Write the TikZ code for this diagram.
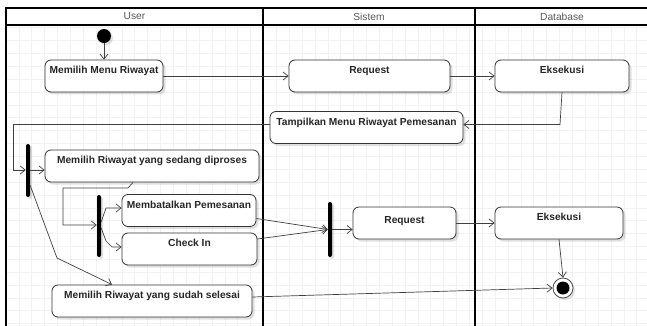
\documentclass[tikz,border=0pt]{standalone}
\usepackage{fontspec}
\setmainfont{Liberation Sans}
\usetikzlibrary{arrows.meta,shadows}
\begin{document}
\begin{tikzpicture}[x=1pt,y=-1pt,
  box/.style={draw=black!80, line width=0.8pt, rounded corners=6pt, fill=white,
    drop shadow={shadow xshift=2.5pt, shadow yshift=-2.5pt, opacity=0.12, fill=black},
    font=\bfseries\fontsize{10.2}{12}\selectfont, text=black!85,
    inner xsep=2pt, inner ysep=0pt, text height=13.5pt, text depth=18.5pt},
  barnode/.style={fill=black, rounded corners=2pt, inner sep=0pt, minimum width=4pt,
    drop shadow={shadow xshift=2pt, shadow yshift=-2pt, opacity=0.12, fill=black}},
  conn/.style={draw=black!75, line width=0.7pt},
  arr/.style={conn, -{Straight Barb[length=5pt,width=8pt,line width=0.7pt]}},
  lane/.style={draw=black, line width=1.2pt},
  hdr/.style={font=\fontsize{10.2}{12}\selectfont, text=black!65}
]
\useasboundingbox (0,0) rectangle (647,326);
\fill[white] (0,0) rectangle (647,326);
% grid
\foreach \i in {0,...,50} {\draw[black!5, line width=0.5pt] (6+\i*12.87,25) -- (6+\i*12.87,326);}
\foreach \j in {0,...,23} {\draw[black!5, line width=0.5pt] (6,27.6+\j*12.87) -- (647,27.6+\j*12.87);}
% lanes
\draw[lane] (6,326) -- (6,8) -- (647,8);
\draw[lane] (6,25) -- (647,25);
\draw[lane] (263,8) -- (263,326);
\draw[lane] (475,8) -- (475,326);
\node[hdr] (hUser) at (134.5,16.5) {User};
\node[hdr] (hSistem) at (369,16.5) {Sistem};
\node[hdr] (hDb) at (562,16.5) {Database};
% start
\node[circle, fill=black, minimum size=14pt, inner sep=0pt,
  drop shadow={shadow xshift=2pt, shadow yshift=-2pt, opacity=0.12, fill=black}] (start) at (104,36) {};
% activities
\node[box, minimum width=118pt] (mmr) at (104,76) {Memilih Menu Riwayat};
\node[box, minimum width=161pt] (req1) at (369.5,76) {Request};
\node[box, minimum width=134pt] (eks1) at (562,76) {Eksekusi};
\node[box, minimum width=193pt] (tamp) at (366.5,127.5) {Tampilkan Menu Riwayat Pemesanan};
\node[box, minimum width=214pt] (dipro) at (152,166) {Memilih Riwayat yang sedang diproses};
\node[box, minimum width=134pt] (batal) at (189,210.5) {Membatalkan Pemesanan};
\node[box, minimum width=135pt] (checkin) at (189.5,249) {Check In};
\node[box, minimum width=103pt, text height=16pt, text depth=16pt] (req2) at (404.5,223) {Request};
\node[box, minimum width=128pt] (eks2) at (559,223) {Eksekusi};
\node[box, minimum width=200pt] (selesai) at (152,301) {Memilih Riwayat yang sudah selesai};
% bars
\node[barnode, minimum height=53pt] (bar1) at (28,170.5) {};
\node[barnode, minimum height=62pt] (bar2) at (99,226) {};
\node[barnode, minimum height=55pt] (bar3) at (330,229.5) {};
% final
\node[circle, draw=black!70, line width=0.8pt, fill=white, minimum size=20pt, inner sep=0pt,
  drop shadow={shadow xshift=2pt, shadow yshift=-2pt, opacity=0.12, fill=black}] (final) at (563,288) {};
\fill[black] (final.center) circle (6.5);
% coordinates
\coordinate (c1) at (560,124.5);
\coordinate (c2) at (13,170);
\coordinate (c3) at (128,188);
\coordinate (c4) at (63,225);
\coordinate (c5) at (106,208);
\coordinate (c6) at (106,241);
\coordinate (c7) at (112,247);
\coordinate (c8) at (57,258);
% connectors
\draw[arr] (start) -- (mmr);
\draw[arr] (mmr) -- (req1);
\draw[arr] (req1) -- (eks1);
\draw[arr] (eks1.south) -- (c1) -- (c1 -| tamp.east);
\draw[arr] (tamp.west |- c1) -| (c2) -- (bar1.west |- c2);
\draw[arr] (bar1.east |- c2) -- (dipro.west |- c2);
\draw[arr] ([xshift=-19pt]dipro.south) -- (c3) -| (c4) -- (bar2.west |- c4);
\draw[arr] ([yshift=4pt]bar2.east) -- (c5) -- (batal.west |- c5);
\draw[arr] ([yshift=-2pt]bar2.east) -- (c6) -- (c7) -- (checkin.west |- c7);
\draw[arr] ([yshift=-8pt]batal.east) -- (bar3.west);
\draw[arr] ([yshift=10pt]checkin.east) -- (bar3.west);
\draw[arr] (bar3.east) -- (req2.west |- bar3.east);
\draw[arr] (req2) -- (eks2);
\draw[arr] (eks2.south) -- (final.north);
\draw[arr] ([yshift=-15pt]bar1.east) -- (c8) -- ([xshift=-40pt]selesai.north);
\draw[arr] ([yshift=4pt]selesai.east) -- (final.west);
\end{tikzpicture}
\end{document}
